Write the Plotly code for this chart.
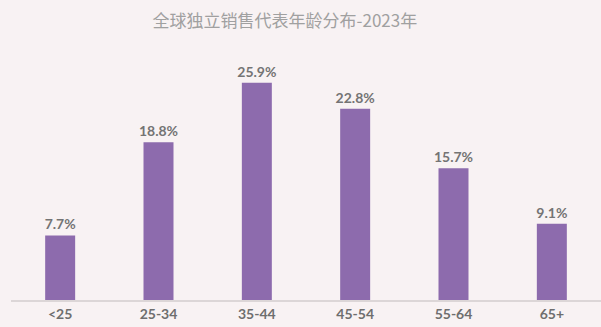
import plotly.graph_objects as go

categories = ["<25", "25-34", "35-44", "45-54", "55-64", "65+"]
values = [7.7, 18.8, 25.9, 22.8, 15.7, 9.1]
labels = [f"{v:.1f}%" for v in values]
title_text = "全球独立销售代表年龄分布-2023年"

fig = go.Figure(go.Bar(
    x=categories, y=values, text=labels, textposition="outside",
    constraintext="none",
    textfont=dict(family="Lato", size=14, color="#747474", weight="bold"),
    marker=dict(color="#8d6bad", line=dict(width=0)),
    cliponaxis=False,
))
fig.update_layout(
    width=601, height=327,
    margin=dict(l=11, r=0, t=40, b=27),
    paper_bgcolor="#f8f2f3", plot_bgcolor="#f8f2f3",
    bargap=0.695,
    showlegend=False,
    title=dict(text=title_text, x=0.474, xanchor="center", y=0.935, yanchor="middle",
               font=dict(family="Noto Sans CJK SC", size=17, color="#a0a0a0")),
    xaxis=dict(showline=True, linecolor="#dcd6d7", linewidth=1.5, ticks="",
               tickfont=dict(family="Lato", size=14, color="#6e6e6e", weight="bold"),
               showgrid=False, fixedrange=True),
    yaxis=dict(range=[0, 31], visible=False, showgrid=False, zeroline=False),
)
fig.write_html("out.html")
